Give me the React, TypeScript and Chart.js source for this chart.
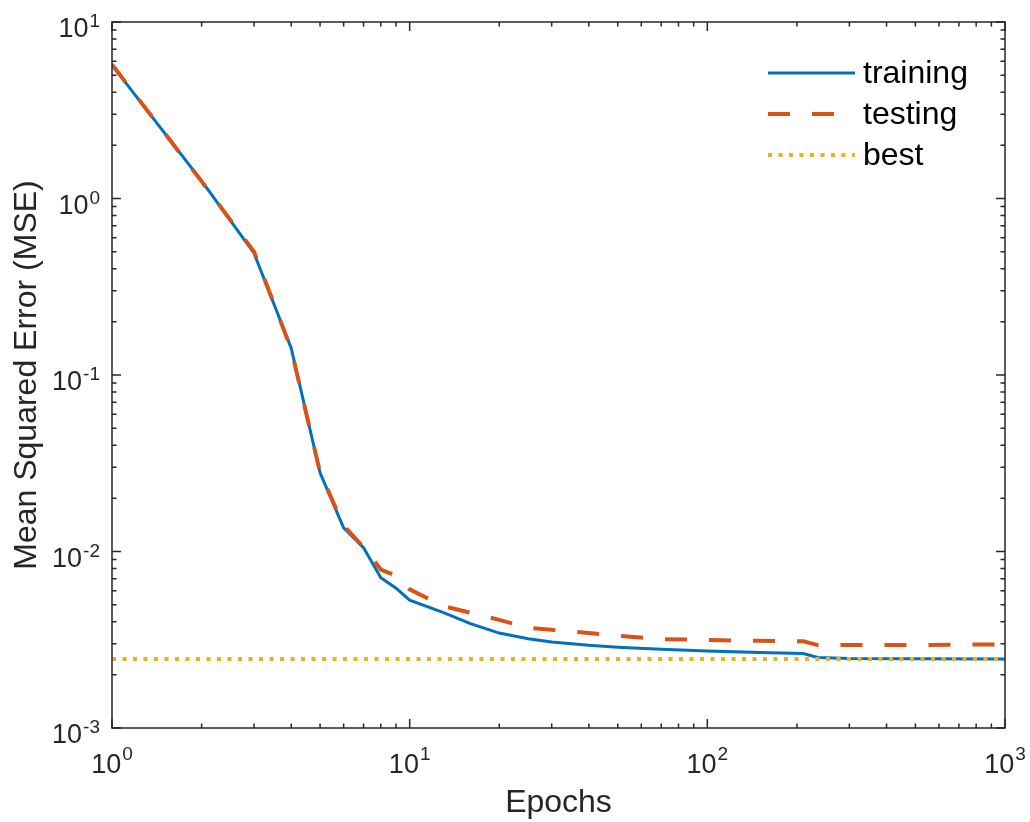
import { useEffect, useRef } from 'react';
import { Chart, registerables } from 'chart.js';

Chart.register(...registerables);

// Training history (log-log): epoch vs mean squared error
const epochs = [1, 2, 3, 4, 5, 6, 7, 8, 9, 10, 13, 16, 20, 25, 30, 40, 50, 70, 100, 150, 210, 235, 300, 500, 1000];
const trainingMse = [5.7, 1.26, 0.49, 0.142, 0.0279, 0.0136, 0.0105, 0.0071, 0.0062, 0.0053, 0.0045, 0.0039, 0.00345, 0.0032, 0.00307, 0.00294, 0.00287, 0.00279, 0.00273, 0.00268, 0.00264, 0.00251, 0.00248, 0.00247, 0.00246];
const testingMse = [5.75, 1.25, 0.5, 0.14, 0.028, 0.014, 0.0106, 0.0079, 0.0073, 0.0061, 0.0049, 0.0045, 0.0041, 0.0037, 0.0036, 0.00345, 0.00333, 0.00319, 0.00315, 0.00312, 0.0031, 0.00295, 0.00295, 0.00295, 0.00298];
const bestMse = 0.00246;
const bestEpochRange = [1, 1000];

const seriesLabels = ['training', 'testing', 'best'];
const xTickValues = [1, 10, 100, 1000];
const xTickExponents = ['0', '1', '2', '3'];
const yTickValues = [0.001, 0.01, 0.1, 1, 10];
const yTickExponents = ['-3', '-2', '-1', '0', '1'];
const xAxisTitle = 'Epochs';
const yAxisTitle = 'Mean Squared Error (MSE)';

const FONT = '"Liberation Sans", Arial, Helvetica, sans-serif';
const AXIS_COLOR = '#262626';
const COLORS = ['#0072BD', '#D95319', '#EDB120'];

// Draws the boxed axes with inward ticks, power-of-ten tick labels, axis titles and legend
const matlabAxes = {
  id: 'matlabAxes',
  afterDatasetsDraw(chart: any) {
    const { ctx, chartArea } = chart;
    const { left, right, top, bottom } = chartArea;
    const xs = chart.scales.x;
    const ys = chart.scales.y;
    const MAJOR = 9;
    const MINOR = 4.5;

    ctx.save();
    ctx.setLineDash([]);
    ctx.strokeStyle = AXIS_COLOR;
    ctx.lineWidth = 1.5;
    ctx.strokeRect(left, top, right - left, bottom - top);

    ctx.beginPath();
    xTickValues.forEach((v, i) => {
      const px = xs.getPixelForValue(v);
      ctx.moveTo(px, bottom); ctx.lineTo(px, bottom - MAJOR);
      ctx.moveTo(px, top); ctx.lineTo(px, top + MAJOR);
      if (i < xTickValues.length - 1) {
        for (let m = 2; m <= 9; m++) {
          const p = xs.getPixelForValue(v * m);
          ctx.moveTo(p, bottom); ctx.lineTo(p, bottom - MINOR);
          ctx.moveTo(p, top); ctx.lineTo(p, top + MINOR);
        }
      }
    });
    yTickValues.forEach((v, i) => {
      const py = ys.getPixelForValue(v);
      ctx.moveTo(left, py); ctx.lineTo(left + MAJOR, py);
      ctx.moveTo(right, py); ctx.lineTo(right - MAJOR, py);
      if (i < yTickValues.length - 1) {
        for (let m = 2; m <= 9; m++) {
          const p = ys.getPixelForValue(v * m);
          ctx.moveTo(left, p); ctx.lineTo(left + MINOR, p);
          ctx.moveTo(right, p); ctx.lineTo(right - MINOR, p);
        }
      }
    });
    ctx.stroke();

    // tick labels as 10 with a raised exponent
    const baseFont = `27px ${FONT}`;
    const expFont = `19px ${FONT}`;
    ctx.fillStyle = AXIS_COLOR;
    ctx.textBaseline = 'alphabetic';
    ctx.textAlign = 'left';
    xTickValues.forEach((v, i) => {
      const px = xs.getPixelForValue(v);
      ctx.font = baseFont;
      const wb = ctx.measureText('10').width;
      ctx.font = expFont;
      const we = ctx.measureText(xTickExponents[i]).width;
      const start = px - (wb + we + 1) / 2;
      ctx.font = baseFont;
      ctx.fillText('10', start, bottom + 45);
      ctx.font = expFont;
      ctx.fillText(xTickExponents[i], start + wb + 1, bottom + 32);
    });
    yTickValues.forEach((v, i) => {
      const py = ys.getPixelForValue(v);
      const rightEdge = left - 12;
      ctx.font = expFont;
      const we = ctx.measureText(yTickExponents[i]).width;
      ctx.textAlign = 'left';
      ctx.fillText(yTickExponents[i], rightEdge - we, py + 5);
      ctx.font = baseFont;
      const wb = ctx.measureText('10').width;
      ctx.fillText('10', rightEdge - we - 1 - wb, py + 15);
    });

    // axis titles
    ctx.font = `32px ${FONT}`;
    ctx.textAlign = 'center';
    ctx.fillText(xAxisTitle, (left + right) / 2, bottom + 84);
    ctx.save();
    ctx.translate(left - 76, (top + bottom) / 2);
    ctx.rotate(-Math.PI / 2);
    ctx.fillText(yAxisTitle, 0, 0);
    ctx.restore();

    // legend (no frame)
    const sx0 = right - 237;
    const sx1 = right - 150;
    const tx = right - 142;
    chart.data.datasets.forEach((ds: any, i: number) => {
      const cy = top + 51 + i * 41;
      ctx.beginPath();
      ctx.strokeStyle = ds.borderColor;
      ctx.lineWidth = ds.borderWidth;
      ctx.lineCap = 'butt';
      ctx.setLineDash(ds.borderDash || []);
      ctx.moveTo(sx0, cy);
      ctx.lineTo(sx1, cy);
      ctx.stroke();
      ctx.setLineDash([]);
      ctx.fillStyle = '#000000';
      ctx.font = `32px ${FONT}`;
      ctx.textAlign = 'left';
      ctx.fillText(ds.label, tx, cy + 10);
    });
    ctx.restore();
  },
};

export default function App() {
  const canvasRef = useRef<HTMLCanvasElement | null>(null);

  useEffect(() => {
    const canvas = canvasRef.current;
    if (!canvas) return;
    const chart = new Chart(canvas, {
      type: 'line',
      data: {
        datasets: [
          {
            label: seriesLabels[0],
            data: epochs.map((e, i) => ({ x: e, y: trainingMse[i] })),
            borderColor: COLORS[0],
            borderWidth: 3,
            pointRadius: 0,
            fill: false,
            order: 3,
          },
          {
            label: seriesLabels[1],
            data: epochs.map((e, i) => ({ x: e, y: testingMse[i] })),
            borderColor: COLORS[1],
            borderWidth: 4,
            borderDash: [22, 22],
            borderCapStyle: 'butt',
            pointRadius: 0,
            fill: false,
            order: 2,
          },
          {
            label: seriesLabels[2],
            data: bestEpochRange.map((e) => ({ x: e, y: bestMse })),
            borderColor: COLORS[2],
            borderWidth: 4,
            borderDash: [4, 6.5],
            borderCapStyle: 'butt',
            pointRadius: 0,
            fill: false,
            order: 1,
          },
        ],
      },
      options: {
        responsive: false,
        animation: false,
        layout: { padding: { top: 22, right: 25, left: 0, bottom: 0 } },
        elements: { line: { tension: 0 } },
        plugins: {
          legend: { display: false },
          tooltip: { enabled: false },
        },
        scales: {
          x: {
            type: 'logarithmic',
            min: 1,
            max: 1000,
            ticks: { display: false },
            grid: { display: false },
            border: { display: false },
            afterFit: (s: any) => { s.height = 94; },
          },
          y: {
            type: 'logarithmic',
            min: 0.001,
            max: 10,
            ticks: { display: false },
            grid: { display: false },
            border: { display: false },
            afterFit: (s: any) => { s.width = 112; },
          },
        },
      } as any,
      plugins: [matlabAxes],
    });
    return () => chart.destroy();
  }, []);

  return (
    <div style={{ position: 'absolute', left: 0, top: 0, width: 1030, height: 822, background: '#ffffff' }}>
      <canvas ref={canvasRef} width={1030} height={822} style={{ display: 'block' }} />
    </div>
  );
}
